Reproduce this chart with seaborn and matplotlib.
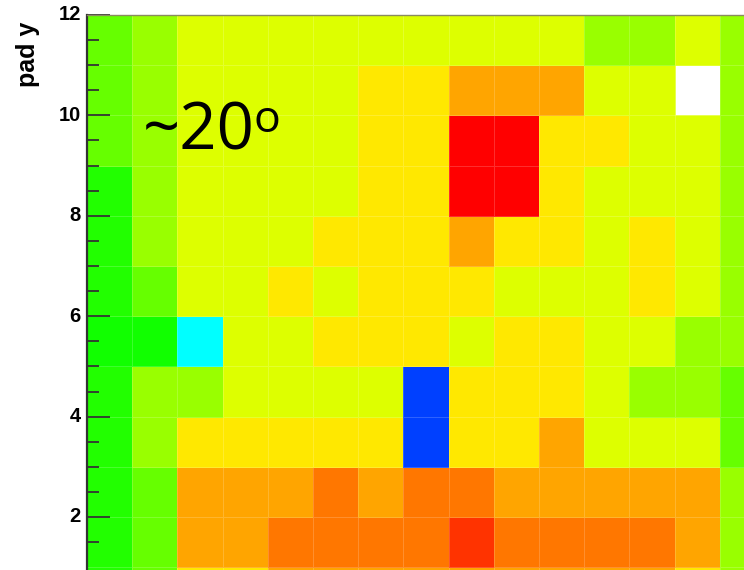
import numpy as np
import pandas as pd
import matplotlib
matplotlib.use("Agg")
import matplotlib.pyplot as plt
from matplotlib.colors import ListedColormap
import seaborn as sns

# Palette levels (low -> high), ROOT-style rainbow
level_colors = ["#0040ff", "#00ffff", "#11ff00", "#22ff00", "#66ff00", "#99ff00",
                "#ddff00", "#ffe800", "#ffa500", "#ff7700", "#ff3300", "#ff0000"]

# Per-pad signal level, listed from the top row (pad y 11-12) down to pad y 0-1
row_11 = [5, 6, 7, 7, 7, 7, 7, 7, 7, 7, 7, 6, 6, 7, 6]
row_10 = [5, 6, 7, 7, 7, 7, 8, 8, 9, 9, 9, 7, 7, np.nan, 6]
row_9 = [5, 6, 7, 7, 7, 7, 8, 8, 12, 12, 8, 8, 7, 7, 6]
row_8 = [4, 6, 7, 7, 7, 7, 8, 8, 12, 12, 8, 7, 7, 7, 6]
row_7 = [4, 6, 7, 7, 7, 8, 8, 8, 9, 8, 8, 7, 8, 7, 6]
row_6 = [4, 5, 7, 7, 8, 7, 8, 8, 8, 7, 7, 7, 8, 7, 6]
row_5 = [3, 3, 2, 7, 7, 8, 8, 8, 7, 8, 8, 7, 7, 6, 6]
row_4 = [4, 6, 6, 7, 7, 7, 7, 1, 8, 8, 8, 7, 6, 6, 5]
row_3 = [4, 6, 8, 8, 8, 8, 8, 1, 8, 8, 9, 7, 7, 7, 5]
row_2 = [4, 5, 9, 9, 9, 10, 9, 10, 10, 9, 9, 9, 9, 9, 6]
row_1 = [4, 5, 9, 9, 10, 10, 10, 10, 11, 10, 10, 10, 10, 9, 6]
row_0 = [4, 5, 8, 8, 9, 9, 9, 9, 9, 9, 9, 9, 9, 8, 6]

pad_x = list(range(15))
pad_y = list(range(12))
rows_bottom_up = [row_0, row_1, row_2, row_3, row_4, row_5,
                  row_6, row_7, row_8, row_9, row_10, row_11]
df = pd.DataFrame(rows_bottom_up, index=pad_y, columns=pad_x, dtype=float)

W, H = 744, 570
fig = plt.figure(figsize=(W / 100, H / 100), dpi=100)
ax = fig.add_axes([87 / W, 0, (W - 87) / W, (H - 15) / H])

cmap = ListedColormap(level_colors)
sns.heatmap(df, ax=ax, cmap=cmap, vmin=0.5, vmax=len(level_colors) + 0.5,
            cbar=False, linewidths=0.6, linecolor=(1, 1, 1, 0.18))

# axis ranges: pad y from 0.944 to 12 (bottom row partly shown), x clipped at right
ax.set_xlim(0, (W - 87) / 45.2)
ax.set_ylim(12 - (H - 15) / 50.2, 12)

ax.set_xticks([])
ax.set_yticks([2, 4, 6, 8, 10, 12])
ax.set_yticks(np.arange(1.5, 12.0, 0.5), minor=True)
ax.set_yticklabels(["2", "4", "6", "8", "10", "12"],
                   fontdict={"family": "Liberation Sans", "weight": "bold", "size": 14.5})
ax.tick_params(axis="y", which="major", direction="in", length=16.5, width=1.3,
               color="#333333", pad=4.5, left=True, labelleft=True, rotation=0)
ax.tick_params(axis="y", which="minor", direction="in", length=8.5, width=1.3,
               color="#333333", left=True)
ax.set_ylabel("")
ax.set_xlabel("")

for side, sp in ax.spines.items():
    sp.set_visible(False)
ax.spines["left"].set_visible(True)
ax.spines["left"].set_color("#333333")
ax.spines["left"].set_linewidth(1.6)
ax.spines["top"].set_visible(True)
ax.spines["top"].set_color("#8a8a60")
ax.spines["top"].set_linewidth(1.0)

fig.text(28 / W, 1 - 22 / H, "pad y", rotation=90, ha="center", va="top",
         family="Liberation Sans", weight="bold", fontsize=18)

# angle annotation
fig.text(143 / W, 1 - 150 / H, "~20", ha="left", va="baseline",
         family="Open Sans", fontsize=47, color="black")
fig.text(254 / W, 1 - 132 / H, "o", ha="left", va="baseline",
         family="Open Sans", fontsize=32, color="black")

fig.savefig("out.png", dpi=100)
